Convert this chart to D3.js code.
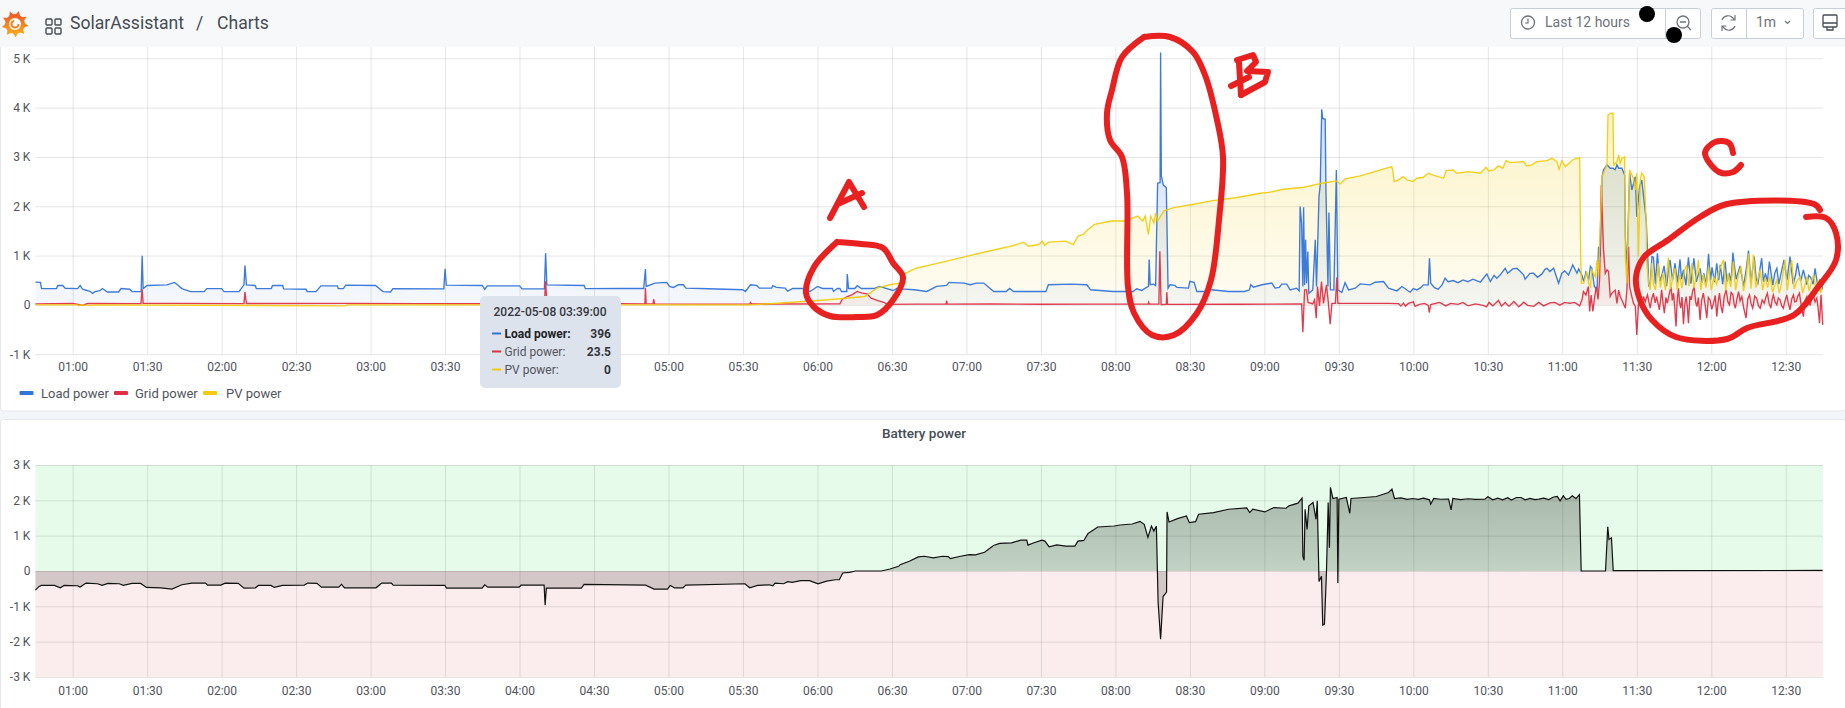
<!DOCTYPE html>
<html>
<head>
<meta charset="utf-8">
<title>SolarAssistant Charts</title>
<script src="https://cdn.jsdelivr.net/npm/d3@7"></script>
<style>
  html, body { margin: 0; padding: 0; background: #f4f5f8; overflow: hidden; }
  svg { display: block; font-family: Roboto, sans-serif; }
  .tick-label { font-size: 12px; fill: #52545c; }
</style>
</head>
<body>
<div id="chart"></div>
<script>
// All series are [minutes since midnight, watts]
const loadPower = [[45,462],[47,455],[47.5,330],[53.5,330],[54,393],[56,393],[57,338],[62,331],[63,393],[64,317],[67,276],[68,235],[69,269],[71,290],[72,331],[74,262],[78.5,262],[79.5,331],[83,317],[84,269],[87.6,269],[88,994],[88.4,331],[90,393],[98,407],[101,455],[102,420],[104,331],[107.5,269],[113,269],[114,331],[120,331],[121,269],[127,269],[129,407],[129.4,800],[130,407],[133.5,393],[134,331],[140,331],[140.5,393],[144.6,393],[145,324],[154,317],[154.5,269],[158,269],[160,386],[166.6,386],[167,331],[169,331],[170,400],[182,393],[185,269],[188,262],[189,331],[209.5,324],[210,730],[210.5,400],[225,393],[226,317],[227,386],[240,386],[241,324],[250,324],[250.5,1049],[251,407],[266,393],[266.5,331],[280.5,333],[290,333],[290.7,728],[291,374],[294.5,442],[299.3,456],[300.4,374],[302,354],[304,408],[306,408],[307,340],[316,327],[330,306],[331,272],[333,408],[335.5,395],[336.6,340],[341.5,340],[342,388],[343.4,354],[347,340],[348,279],[350,333],[355,333],[357,272],[360,374],[362,333],[366,333],[366.5,272],[368,333],[369,333],[369.7,272],[371.8,272],[372,626],[372.5,333],[375,333],[376,388],[377.7,333],[383,333],[385,374],[390.4,292],[392,333],[395,320],[399,306],[404,272],[408,374],[412,395],[413,456],[419,442],[421.5,408],[424,442],[427,442],[428.6,374],[431,272],[436,272],[437.4,333],[439,272],[452,272],[453,408],[462,422],[468.5,408],[470,306],[479,272],[481,272],[487,272],[488.6,326],[490.6,292],[492,340],[493.3,374],[493.6,918],[494,408],[495.3,421],[496.2,394],[497,2470],[498,2480],[498.2,5120],[498.5,2620],[499.3,2430],[500.5,2380],[501.2,340],[502,408],[504,394],[504.7,354],[509.4,340],[510,476],[511.7,456],[512.8,272],[516,272],[517.5,340],[518.8,306],[525.5,272],[532,272],[534,306],[534.5,408],[535.6,360],[539,408],[543,442],[544.3,340],[546,354],[547,421],[549,421],[550.4,304],[553,338],[554,284],[554.4,1993],[555,1650],[555.5,372],[555.8,1980],[556.2,405],[556.6,1318],[557,439],[557.5,1081],[557.9,236],[559.5,304],[560.5,1318],[561,372],[562,2196],[562.5,2432],[563.1,3966],[563.5,3780],[564.5,3763],[564.8,2330],[565.6,372],[566,1872],[566.6,304],[568,304],[569,2736],[569.6,304],[571.2,250],[572.5,452],[573.9,304],[576.6,338],[578.6,426],[582.6,405],[584.6,459],[588,473],[590,338],[593.4,284],[595.4,372],[598.7,257],[600,330],[601.4,304],[603,350],[604,405],[606,405],[606.5,946],[607,439],[608.5,350],[610,318],[611.5,400],[612.8,540],[614,470],[616,493],[618,450],[620,507],[622,470],[624,520],[627,459],[628.5,560],[629.6,628],[631,473],[632.5,600],[633.6,540],[635,610],[637,743],[638,642],[640,730],[641.7,743],[643,680],[644.4,608],[645,520],[647,640],[648.4,642],[650,560],[651.8,628],[653,720],[653.8,743],[655,676],[656.5,743],[658.5,439],[659.8,642],[661,690],[662.5,608],[664.2,810],[665.9,642],[666.6,730],[667.9,608],[668.6,470],[669.5,660],[670.6,520],[671.3,780],[671.9,740],[672.9,372],[674,304],[674.6,1180],[675.3,980],[676,2600],[676.6,2740],[678,2840],[679.3,2770],[680.4,2770],[681.3,2740],[682,2840],[682.7,2770],[684,2770],[685.1,2635],[685.4,1385],[686,676],[687.1,2670],[688,2330],[689.4,2600],[690,1790],[691.1,2400],[692,2530],[693.8,1720],[694.4,1000],[694.8,372],[695.4,440],[696.1,980],[696.7,966],[697.5,420],[698.3,1047],[699.3,480],[700.2,620],[701,790],[702,380],[702.7,700],[703.4,912],[704.4,500],[705.4,845],[706.4,450],[707.4,926],[708,520],[708.8,709],[709.8,400],[710.8,966],[711.8,430],[713,946],[714,470],[715.5,743],[716.3,450],[717,640],[718,410],[718.9,1034],[719.7,500],[720.3,760],[721.3,460],[722.2,845],[723,500],[723.6,811],[724.6,420],[725.6,878],[726.3,470],[727.3,620],[728,480],[728.7,1061],[730,520],[731.6,790],[733,380],[734,700],[735,1101],[736,450],[737.3,980],[738.1,520],[738.8,440],[739.5,700],[740.3,946],[741,470],[741.8,640],[742.6,470],[743.4,878],[744.8,400],[745.6,650],[746.4,743],[747.2,420],[748,620],[749.3,912],[750.5,500],[751.7,980],[753,420],[754,620],[754.7,845],[756,480],[757.1,709],[758.5,410],[759.2,600],[760,560],[761,420],[761.8,743],[763,350],[763.8,520],[764.5,304],[765,450]];

const gridPower = [[45,20],[60,30],[64,-8],[66,28],[87.5,25],[88,317],[88.4,30],[100,32],[129,25],[129.4,262],[130,28],[170,30],[200,25],[250,22],[250.5,476],[251,20],[280,25],[290.5,20],[290.7,340],[291,20],[293.8,20],[294,115],[294.4,20],[310,15],[332.8,18],[333,48],[333.5,18],[369,20],[370,115],[372,170],[374,210],[376,272],[378,240],[380,224],[381.6,136],[384,90],[387,48],[388,10],[400,16],[411.8,16],[412,88],[412.3,16],[430,18],[450,12],[470,16],[493.2,14],[493.4,54],[493.7,14],[497.5,15],[497.9,1088],[498.4,5],[500.5,12],[500.7,258],[501,10],[530,12],[555,20],[555.5,-554],[556.2,304],[557,304],[557.6,50],[559.5,20],[560.2,100],[560.9,-270],[561.4,372],[562.2,-20],[563,473],[563.8,30],[565,405],[565.8,30],[566.5,-392],[567.2,30],[568.6,30],[569.2,561],[569.6,30],[590,30],[594,25],[595,-25],[596,36],[596.8,-25],[598,30],[600,60],[600.7,-30],[602.5,10],[604.5,30],[606,-10],[606.4,-155],[607,8],[610.5,50],[612,10],[613,-20],[615,30],[618,10],[620,50],[622,-20],[625,20],[628,-10],[629.5,-40],[630.5,50],[632,-20],[634.3,90],[635.5,-25],[637,50],[638.5,-30],[640.5,70],[642.5,-40],[644.5,55],[646,-10],[648.5,-30],[650.5,50],[652.5,-20],[655,40],[657,50],[659,-5],[661,50],[663,30],[665,50],[667,-20],[668,120],[668.5,270],[669.5,200],[670.5,372],[671,-135],[671.6,200],[672.3,-135],[673,150],[673.7,372],[674.4,110],[675,500],[675.7,2432],[676.6,1115],[677.3,642],[678,710],[678.6,680],[679.3,170],[680,240],[681.3,300],[682,30],[682.7,300],[683.3,170],[684,100],[685.4,-68],[686,300],[686.7,1180],[687.1,372],[688,170],[688.7,30],[689.4,-30],[690,-608],[690.7,30],[691.3,68],[692,-30],[692.7,169],[693.4,60],[694.3,203],[695.4,-68],[696,120],[696.7,237],[697.4,40],[698,169],[699.1,-101],[699.6,110],[700,304],[700.6,20],[701.1,-169],[701.7,150],[702.3,34],[703,210],[703.8,372],[704.3,90],[704.8,237],[705.3,-60],[705.8,-439],[706.3,120],[706.8,338],[707.2,60],[707.7,-68],[708.2,160],[708.8,-392],[709.4,40],[709.9,169],[710.4,-60],[710.8,-372],[711.4,180],[711.9,101],[712.5,280],[713.1,372],[713.7,60],[714.2,-34],[714.8,150],[715.5,-304],[716.1,90],[716.8,237],[717.5,10],[718.2,-270],[718.8,150],[719.5,101],[720.2,-90],[720.9,34],[721.6,190],[722.2,-237],[722.8,70],[723.3,237],[723.9,-30],[724.5,-169],[725.2,170],[726,304],[726.7,60],[727.3,0],[728,250],[728.7,203],[729.2,20],[729.7,-68],[730.4,140],[731,270],[731.6,80],[732.3,169],[733.1,-70],[734,-270],[734.7,120],[735.4,203],[736,30],[736.7,-68],[737.5,180],[738.3,135],[739,-20],[739.7,-68],[740.5,100],[741.3,34],[742,160],[742.6,237],[743.3,30],[744,-68],[744.5,110],[745,203],[745.7,60],[746.4,0],[747,140],[747.7,101],[748.4,-20],[749,-68],[749.7,80],[750.4,203],[751,40],[751.7,-101],[752.4,120],[753.1,203],[753.6,60],[754.2,68],[754.8,170],[755.5,237],[756.3,-30],[757.1,-237],[757.8,90],[758.5,169],[759.2,30],[759.8,0],[760.5,130],[761.1,203],[761.8,60],[762.5,135],[763,-50],[763.6,-372],[764.2,203],[764.9,-406]];

const pvPower = [[45,0],[62,0],[62.5,-20],[63,0],[68,-15],[68.5,0],[170,-20],[170.5,0],[333,0],[344,34],[363,100],[379,170],[384,340],[389,408],[393,442],[395.5,646],[400,748],[406,816],[417.5,952],[428.6,1088],[438,1190],[443,1272],[445,1190],[449,1224],[450.6,1292],[451.5,1204],[453,1272],[460,1292],[463,1224],[465,1394],[467,1428],[469,1530],[471.6,1633],[478,1700],[484,1700],[489,1802],[491,1700],[492,1802],[493.3,1428],[494.2,1802],[495.5,1666],[496.2,1860],[497,1700],[499.5,1905],[503.5,1973],[511.5,2040],[518.6,2108],[529,2177],[538.3,2264],[541.7,2280],[547.7,2345],[556,2385],[560,2432],[563,2466],[569,2513],[570.5,2453],[572.5,2554],[578.6,2615],[591.3,2804],[591.7,2730],[592.3,2500],[594,2535],[596,2601],[597.4,2535],[599.8,2500],[601.4,2568],[604,2588],[606,2669],[608,2629],[612.2,2567],[613.2,2723],[616,2736],[617.5,2669],[622.2,2702],[627,2669],[629.3,2790],[630.3,2716],[632.3,2736],[634.3,2818],[636,2770],[637.4,2926],[639,2885],[644.4,2905],[645.7,2818],[647.7,2838],[649.7,2905],[653.8,2926],[655.8,2973],[657.8,2905],[658.7,2750],[659.8,2926],[661.2,2804],[664.5,2953],[667,2986],[667.4,980],[667.7,440],[668.6,440],[669.9,676],[670.6,440],[671.3,372],[671.9,710],[673.3,570],[674,910],[674.6,570],[676,2600],[678,2840],[678.4,3850],[679.6,3885],[680.4,3885],[680.7,2840],[682,2905],[682.7,3040],[683.3,2870],[684,2970],[685.1,3000],[685.4,980],[686,440],[687.1,2735],[688.7,2560],[689.4,2330],[690,2670],[690.7,980],[691.4,2530],[692,2670],[693,2600],[693.8,1650],[694,850],[694.8,440],[695.4,300],[696,845],[696.7,420],[697.5,300],[698.7,845],[699.5,350],[700.5,640],[701.5,300],[702.7,960],[703.6,320],[704.5,560],[705.4,743],[706.3,300],[707.2,620],[708.2,340],[709.2,700],[710.1,811],[711,380],[712.1,845],[713,340],[714,600],[714.8,912],[715.8,300],[716.8,620],[717.8,350],[718.9,777],[720,300],[721,560],[722.2,420],[723.2,700],[724.9,912],[725.8,300],[726.8,640],[727.8,360],[728.9,878],[729.8,300],[730.9,610],[732,777],[733,280],[734,540],[735,1041],[736,330],[737,1014],[738,350],[738.8,540],[739.7,710],[740.7,300],[741.7,560],[742.7,350],[743.7,574],[744.7,260],[745.7,420],[746.4,507],[747.4,240],[748.5,500],[749.7,912],[750.6,300],[751.5,620],[752.4,912],[753.4,320],[754.4,480],[755.8,574],[756.8,240],[757.7,400],[758.5,574],[759.4,280],[760.3,460],[761.2,608],[762.2,300],[763.2,500],[764,240],[765,500]];

const batteryPower = [[45,-541],[46.5,-437],[47.4,-408],[52.7,-408],[55,-475],[56.6,-408],[62,-418],[63,-456],[65.4,-342],[70,-361],[71.9,-408],[74.2,-351],[78.8,-361],[80.4,-408],[83.9,-351],[87.4,-351],[89.7,-465],[95.5,-475],[100,-513],[104,-390],[108,-342],[113.5,-342],[114.4,-399],[119.7,-399],[121.4,-342],[126.7,-351],[129,-485],[133.6,-475],[134.8,-408],[139.9,-408],[141.2,-465],[144.5,-408],[153.3,-399],[154.7,-342],[158.4,-351],[160.2,-456],[167.2,-456],[168.3,-380],[169.5,-475],[182.2,-475],[184.5,-342],[188.4,-342],[189.1,-399],[209.9,-408],[210.6,-485],[224.9,-485],[226,-390],[227.2,-456],[239.9,-456],[240.6,-399],[249.9,-399],[250.3,-960],[250.8,-485],[264.9,-485],[266,-380],[290.8,-399],[294.2,-513],[299.6,-513],[300.7,-408],[302.4,-475],[305.8,-475],[307,-399],[330.8,-361],[332.7,-475],[335.9,-408],[340.6,-390],[342,-418],[342.9,-342],[346.4,-361],[348,-304],[349.8,-323],[353.3,-275],[356.8,-275],[360.2,-361],[363.7,-285],[367.2,-247],[368.8,-247],[370.2,-57],[373,-38],[375.3,0],[385.7,0],[389.2,57],[392.7,133],[393.3,180],[397,275],[400.6,400],[403,418],[406.7,370],[410.3,418],[412.7,408],[413.5,351],[417.6,418],[421.2,465],[423.6,456],[427.3,532],[430.9,722],[433.4,780],[438.2,798],[441.9,874],[444.3,874],[444.8,732],[447.2,798],[450.4,874],[451.6,846],[453.3,684],[456.4,741],[460,703],[463.7,703],[464.9,846],[467.3,865],[469,1064],[472.9,1245],[479.5,1273],[481.9,1302],[486.8,1330],[489.9,1406],[491.6,1320],[493.1,950],[494.5,1273],[495.5,1130],[496.5,1273],[497.2,-893],[498.2,-1928],[499.2,-722],[500.6,-598],[500.8,1672],[501.6,1387],[505,1482],[508.6,1558],[509.8,1368],[512.3,1396],[513.5,1606],[519.5,1653],[525.6,1748],[532.9,1786],[534.1,1653],[535.3,1748],[540.2,1672],[543.8,1796],[548.7,1776],[549.9,1843],[553.5,1919],[555.2,2060],[555.5,418],[556,304],[556.4,1748],[557.2,1178],[557.9,1843],[559.6,1938],[560.8,1463],[561.3,1985],[562,-294],[563,-152],[563.5,-1530],[564.2,-1501],[565,-57],[565.7,1938],[566.2,656],[566.6,2365],[567.6,2052],[569.3,2080],[569.6,-342],[570,2033],[573,2080],[574.4,1634],[574.9,2052],[580.2,2080],[585.1,2109],[590,2223],[591.4,2318],[592.4,2052],[595,2070],[597.5,2030],[599.7,2052],[602,2025],[604,2060],[606.5,2014],[607,1890],[608.2,2052],[611,2030],[614.2,2033],[615.2,1729],[615.9,2052],[619,2020],[622,2045],[625,2025],[628.8,2033],[630,2100],[632,2015],[634,2060],[636,2014],[638,2075],[639.5,2010],[641.5,2080],[643.4,2080],[645,2015],[647,2055],[649,2020],[650.6,2033],[652.5,2060],[654.5,2020],[656.5,2095],[658,2109],[659.1,1985],[660.4,2128],[661.5,2030],[662.8,2052],[664,2130],[665.5,2050],[666.9,2166],[667.6,0],[677.4,0],[678.3,1254],[678.8,893],[679.8,940],[680.5,10],[764.8,15]];

const powerTicks = [-1000, 0, 1000, 2000, 3000, 4000, 5000];
const batteryTicks = [-3000, -2000, -1000, 0, 1000, 2000, 3000];
// the tooltip hides these two labels in the top chart
const hiddenTopLabels = ["04:00", "04:30"];

const legendItems = [
    { label: "Load power", color: "#3274d9" },
    { label: "Grid power", color: "#e02f44" },
    { label: "PV power", color: "#f2cc0c" }
];
const tooltipRows = [
    { label: "Load power:", value: "396", color: "#3274d9", bold: true },
    { label: "Grid power:", value: "23.5", color: "#e02f44" },
    { label: "PV power:", value: "0", color: "#f2cc0c" }
];

// Hand drawn marker strokes on top of the screenshot, in page pixels
const scribbleA = [[837,242],[861,244],[883,248],[893,263],[903,277],[893,300],[877,315],[857,317],[830,316],[814,307],[806,293],[814,267],[837,242]];
const scribbleALetter = [[[830,218],[849,182],[864,207]], [[840,203],[862,193]]];
const scribbleB = [[1144,37],[1170,37],[1193,52],[1205,75],[1217,120],[1223,157],[1219,220],[1211,280],[1197,313],[1174,335],[1152,335],[1134,313],[1128,287],[1127,193],[1122,157],[1110,140],[1107,113],[1112,90],[1122,57],[1144,37]];
const scribbleBLetter = [[[1237,60],[1253,55],[1256,62],[1247,71],[1268,72],[1265,82],[1241,95]], [[1239,63],[1241,95]], [[1231,86],[1249,77]]];
const scribbleC = [[1820,210],[1814,204],[1727,204],[1700,217],[1668,240],[1644,257],[1636,277],[1640,300],[1652,320],[1676,337],[1727,339],[1747,328],[1794,315],[1818,287],[1836,260],[1836,233],[1826,218],[1806,217]];
const scribbleCLetter = [[1733,153],[1729,143],[1715,142],[1705,153],[1719,172],[1733,172],[1741,165]];

const width = 1845;
const height = 708;
const dayStart = new Date(2022, 4, 8).getTime();
const toDate = m => new Date(dayStart + m * 60000);

const svg = d3.select("#chart").append("svg")
    .attr("width", width)
    .attr("height", height);
const defs = svg.append("defs");

const x = d3.scaleTime().domain([toDate(45), toDate(765)]).range([35.4, 1823]);
const yTop = d3.scaleLinear().domain([-1000, 5000]).range([354.2, 58.3]);
const yBottom = d3.scaleLinear().domain([-3000, 3000]).range([677, 465]);

// Page background and the two panels
svg.append("rect").attr("width", width).attr("height", height).attr("fill", "#f4f5f8");
svg.append("rect").attr("x", 0.5).attr("y", 40).attr("width", width).attr("height", 371)
    .attr("rx", 3).attr("fill", "#fff").attr("stroke", "#e4e7ed");
svg.append("rect").attr("x", 0.5).attr("y", 419.5).attr("width", width).attr("height", 300)
    .attr("rx", 3).attr("fill", "#fff").attr("stroke", "#e4e7ed");

drawHeader();
drawPowerChart();
drawBatteryChart();
drawTooltip();
drawScribbles();

function drawAxes(g, y, ticks, top, labelY) {
    const bottom = y.range()[0];
    const xAxis = d3.axisBottom(x)
        .ticks(d3.timeMinute.every(30))
        .tickFormat(d3.timeFormat("%H:%M"))
        .tickSize(-(bottom - top));
    const xg = g.append("g").attr("transform", `translate(0,${bottom})`).call(xAxis);
    xg.select(".domain").remove();
    xg.selectAll("line").attr("stroke", "#000").attr("stroke-opacity", 0.1);
    xg.selectAll("text").attr("class", "tick-label").attr("y", labelY - bottom).attr("dy", "0.35em")
        .style("font-family", "Roboto, sans-serif").style("font-size", "12px");

    const yAxis = d3.axisLeft(y)
        .tickValues(ticks)
        .tickFormat(d => d === 0 ? "0" : `${d / 1000} K`)
        .tickSize(-(x.range()[1] - x.range()[0]))
        .tickPadding(5);
    const yg = g.append("g").attr("transform", `translate(${x.range()[0]},0)`).call(yAxis);
    yg.select(".domain").remove();
    yg.selectAll("line").attr("stroke", "#000").attr("stroke-opacity", 0.1);
    yg.selectAll("text").attr("class", "tick-label")
        .style("font-family", "Roboto, sans-serif").style("font-size", "12px");
    return xg;
}

function fadeGradient(id, color, y, maxOpacity, minOpacity) {
    const grad = defs.append("linearGradient").attr("id", id)
        .attr("gradientUnits", "userSpaceOnUse")
        .attr("x1", 0).attr("x2", 0).attr("y1", y.range()[1]).attr("y2", y(0));
    grad.append("stop").attr("offset", 0).attr("stop-color", color).attr("stop-opacity", maxOpacity);
    grad.append("stop").attr("offset", 1).attr("stop-color", color).attr("stop-opacity", minOpacity);
}

function drawPowerChart() {
    const g = svg.append("g");
    const xg = drawAxes(g, yTop, powerTicks, 47, 367);
    xg.selectAll("text").filter(function () { return hiddenTopLabels.includes(this.textContent); }).remove();

    const series = [
        { id: "load", data: loadPower, color: legendItems[0].color },
        { id: "grid", data: gridPower, color: legendItems[1].color },
        { id: "pv", data: pvPower, color: legendItems[2].color }
    ];
    const area = d3.area().x(d => x(toDate(d[0]))).y0(yTop(0)).y1(d => yTop(d[1]));
    const line = d3.line().x(d => x(toDate(d[0]))).y(d => yTop(d[1]));

    series.forEach(s => {
        fadeGradient(`fill-${s.id}`, s.color, yTop, 0.28, 0.05);
        g.append("path").attr("d", area(s.data)).attr("fill", `url(#fill-${s.id})`);
    });
    series.forEach(s => {
        g.append("path").attr("d", line(s.data))
            .attr("fill", "none").attr("stroke", s.color).attr("stroke-width", 1.35).attr("stroke-opacity", 0.95);
    });

    // legend
    let legendX = [19.5, 114, 203];
    let labelX = [41, 135, 226];
    legendItems.forEach((item, i) => {
        g.append("rect").attr("x", legendX[i]).attr("y", 391).attr("width", 14).attr("height", 4).attr("rx", 1).attr("fill", item.color);
        g.append("text").attr("x", labelX[i]).attr("y", 393).attr("dy", "0.35em").attr("class", "tick-label")
            .style("font-size", "13px").text(item.label);
    });
}

function drawBatteryChart() {
    const g = svg.append("g");
    const x0 = x.range()[0], x1 = x.range()[1];
    g.append("rect").attr("x", x0).attr("y", yBottom(3000)).attr("width", x1 - x0)
        .attr("height", yBottom(0) - yBottom(3000)).attr("fill", "#e6fbe9");
    g.append("rect").attr("x", x0).attr("y", yBottom(0)).attr("width", x1 - x0)
        .attr("height", yBottom(-3000) - yBottom(0)).attr("fill", "#fbeded");
    drawAxes(g, yBottom, batteryTicks, yBottom(3000), 690.7);

    const grad = defs.append("linearGradient").attr("id", "fill-battery")
        .attr("gradientUnits", "userSpaceOnUse")
        .attr("x1", 0).attr("x2", 0).attr("y1", yBottom(3000)).attr("y2", yBottom(0));
    grad.append("stop").attr("offset", 0).attr("stop-color", "#000").attr("stop-opacity", 0.3);
    grad.append("stop").attr("offset", 1).attr("stop-color", "#000").attr("stop-opacity", 0.16);

    const area = d3.area().x(d => x(toDate(d[0]))).y0(yBottom(0)).y1(d => yBottom(d[1]));
    const line = d3.line().x(d => x(toDate(d[0]))).y(d => yBottom(d[1]));
    g.append("path").attr("d", area(batteryPower)).attr("fill", "url(#fill-battery)");
    g.append("path").attr("d", line(batteryPower)).attr("fill", "none").attr("stroke", "#111").attr("stroke-width", 1.2);

    g.append("text").attr("x", 924).attr("y", 433).attr("dy", "0.35em").attr("text-anchor", "middle")
        .style("font-size", "13.5px").style("font-weight", 500).attr("fill", "#464c54").text("Battery power");
}

function drawTooltip() {
    const g = svg.append("g");
    g.append("rect").attr("x", 480).attr("y", 296).attr("width", 141).attr("height", 92).attr("rx", 5).attr("fill", "#dde3ed");
    g.append("text").attr("x", 550).attr("y", 312).attr("dy", "0.35em").attr("text-anchor", "middle")
        .style("font-size", "12px").style("font-weight", 500).attr("fill", "#33363c").text("2022-05-08 03:39:00");
    tooltipRows.forEach((row, i) => {
        const y = 333.5 + i * 18;
        g.append("rect").attr("x", 492).attr("y", y - 1).attr("width", 9).attr("height", 2).attr("fill", row.color);
        g.append("text").attr("x", 504.5).attr("y", y).attr("dy", "0.35em")
            .style("font-size", "12px").style("font-weight", row.bold ? 700 : 400)
            .attr("fill", row.bold ? "#202226" : "#52545c").text(row.label);
        g.append("text").attr("x", 611).attr("y", y).attr("dy", "0.35em").attr("text-anchor", "end")
            .style("font-size", "12px").style("font-weight", 700).attr("fill", "#33363c").text(row.value);
    });
}

function drawHeader() {
    const g = svg.append("g");
    g.append("rect").attr("width", width).attr("height", 47).attr("fill", "#f7f8fa");

    // grafana logo, just a small swirl
    const logo = g.append("g").attr("transform", "translate(15,24)");
    const logoGrad = defs.append("linearGradient").attr("id", "logo").attr("x1", 0).attr("x2", 0).attr("y1", 0).attr("y2", 1);
    logoGrad.append("stop").attr("offset", 0).attr("stop-color", "#f05a28");
    logoGrad.append("stop").attr("offset", 1).attr("stop-color", "#fbaa1a");
    const teeth = d3.range(0, 9).map(i => {
        const a = i / 9 * 2 * Math.PI - Math.PI / 2;
        return `M${Math.cos(a) * 9},${Math.sin(a) * 9}L${Math.cos(a + 0.3) * 13.5},${Math.sin(a + 0.3) * 13.5}L${Math.cos(a + 0.6) * 9},${Math.sin(a + 0.6) * 9}Z`;
    }).join("");
    logo.append("path").attr("d", teeth).attr("fill", "url(#logo)");
    logo.append("circle").attr("r", 10).attr("fill", "url(#logo)");
    logo.append("circle").attr("r", 6).attr("fill", "#fff");
    logo.append("circle").attr("r", 3.5).attr("fill", "none").attr("stroke", "#f47b20").attr("stroke-width", 2).attr("stroke-dasharray", "15 8");

    // dashboard icon
    [[46, 19], [55, 19], [46, 28], [55, 28]].forEach(p => {
        g.append("rect").attr("x", p[0]).attr("y", p[1]).attr("width", 6).attr("height", 6).attr("rx", 1)
            .attr("fill", "none").attr("stroke", "#464c54").attr("stroke-width", 1.4);
    });
    g.append("text").attr("x", 70).attr("y", 23).attr("dy", "0.35em").style("font-size", "17.6px").attr("fill", "#464c54").text("SolarAssistant");
    g.append("text").attr("x", 196).attr("y", 23).attr("dy", "0.35em").style("font-size", "17.6px").attr("fill", "#464c54").text("/");
    g.append("text").attr("x", 217).attr("y", 23).attr("dy", "0.35em").style("font-size", "17.6px").attr("fill", "#464c54").text("Charts");

    // toolbar
    const boxes = [[1510, 190], [1711, 92], [1813, 40]];
    boxes.forEach(b => {
        g.append("rect").attr("x", b[0] + 0.5).attr("y", 8.5).attr("width", b[1]).attr("height", 30).attr("rx", 2)
            .attr("fill", "#fff").attr("stroke", "#c7d0d9");
    });
    [1665.5, 1746.5].forEach(d => {
        g.append("line").attr("x1", d).attr("x2", d).attr("y1", 9).attr("y2", 38).attr("stroke", "#c7d0d9");
    });
    const icon = "#6e737b";
    g.append("circle").attr("cx", 1528).attr("cy", 22.5).attr("r", 6.5).attr("fill", "none").attr("stroke", icon).attr("stroke-width", 1.3);
    g.append("path").attr("d", "M1528 18.5v4.5h-3").attr("fill", "none").attr("stroke", icon).attr("stroke-width", 1.2);
    g.append("text").attr("x", 1545).attr("y", 22.5).attr("dy", "0.35em").style("font-size", "14px").attr("fill", "#6e737b").text("Last 12 hours");
    g.append("circle").attr("cx", 1683).attr("cy", 22).attr("r", 6).attr("fill", "none").attr("stroke", icon).attr("stroke-width", 1.3);
    g.append("path").attr("d", "M1680 22h6M1687.5 26.5l3.5 3.5").attr("fill", "none").attr("stroke", icon).attr("stroke-width", 1.3);
    g.append("path").attr("d", "M1722 20a6.5 6.5 0 0 1 11-2l1.5 2M1735 26a6.5 6.5 0 0 1-11 2l-1.5-2M1735 15v5h-4.5M1722 31v-5h4.5")
        .attr("fill", "none").attr("stroke", icon).attr("stroke-width", 1.2);
    g.append("text").attr("x", 1756).attr("y", 22.5).attr("dy", "0.35em").style("font-size", "14px").attr("fill", "#6e737b").text("1m");
    g.append("path").attr("d", "M1785 21l2.5 2.5 2.5-2.5").attr("fill", "none").attr("stroke", icon).attr("stroke-width", 1.2);
    g.append("path").attr("d", "M1824 15h12a1 1 0 0 1 1 1v10a1 1 0 0 1-1 1h-12a1 1 0 0 1-1-1v-10a1 1 0 0 1 1-1zM1823 23h14M1827 27v3h6v-3")
        .attr("fill", "none").attr("stroke", "#464c54").attr("stroke-width", 1.3);

    // black blobs somebody left on the toolbar
    g.append("ellipse").attr("cx", 1647).attr("cy", 14).attr("rx", 8).attr("ry", 8).attr("fill", "#000");
    g.append("ellipse").attr("cx", 1674).attr("cy", 35).attr("rx", 8).attr("ry", 8).attr("fill", "#000");
}

function drawScribbles() {
    const g = svg.append("g").attr("fill", "none").attr("stroke", "#e8201f")
        .attr("stroke-width", 6).attr("stroke-linecap", "round").attr("stroke-linejoin", "round");
    const curve = d3.line().curve(d3.curveCatmullRom.alpha(0.5));
    const straight = d3.line();
    [scribbleA, scribbleB, scribbleC, scribbleCLetter].forEach(s => g.append("path").attr("d", curve(s)));
    scribbleALetter.concat(scribbleBLetter).forEach(s => g.append("path").attr("d", straight(s)));
}
</script>
</body>
</html>
